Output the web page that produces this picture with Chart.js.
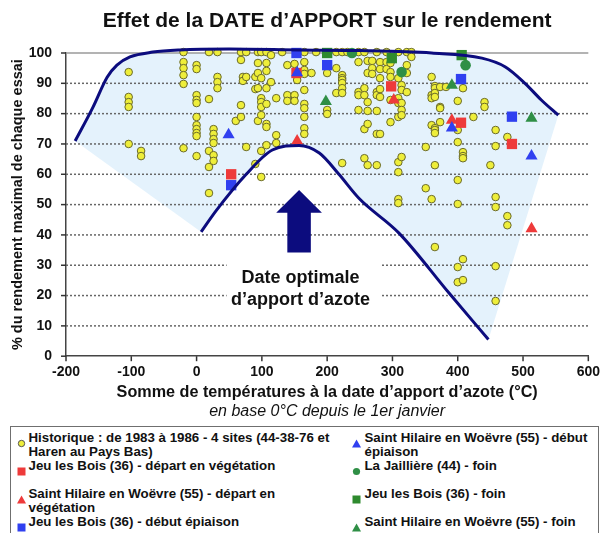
<!DOCTYPE html>
<html><head><meta charset="utf-8">
<script src="https://cdn.jsdelivr.net/npm/chart.js@4.4.1/dist/chart.umd.min.js"></script>
<style>
html,body{margin:0;padding:0;background:#fff;}
#wrap{position:relative;width:603px;height:533px;overflow:hidden;font-family:"Liberation Sans",Arial,sans-serif;}
#c{position:absolute;left:0;top:0;}
#legend{position:absolute;left:10px;top:426px;width:589px;height:130px;border:1.5px solid #6f6f6f;box-sizing:border-box;}
.li{position:absolute;font-weight:bold;font-size:13.3px;line-height:14px;color:#111;white-space:nowrap;}
.mk{position:absolute;display:block;}
</style></head><body>
<div id="wrap"><canvas id="c" width="603" height="425"></canvas><div id="legend"></div></div>
<script>
// ---------- data ----------
const xTicks = [-200,-100,0,100,200,300,400,500,600];
const yTicks = [0,10,20,30,40,50,60,70,80,90,100];

// Historique 1983-1986 (yellow circles)
const histX = [
 -104,-104,-104,-104,-104,
 -85,-85,
 -20,-20,-20,-20,-20,-20,
 0,0,0,0,0,0,0,0,0,0,0,
 19,19,19,19,19,
 26,26,26,26,26,26,
 32,32,32,32,
 60,
 68,68,68,68,
 71,71,
 76,76,76,
 90,90,90,
 94,94,94,94,94,
 99,99,99,99,99,99,99,99,
 107,107,107,107,107,107,107,107,
 114,114,
 122,122,122,
 131,
 139,139,139,
 150,150,150,
 154,
 165,165,165,165,165,165,165,165,165,165,
 176,
 183,
 200,200,200,
 214,214,214,
 223,223,223,223,223,223,223,223,
 231,
 248,248,248,248,248,
 257,257,257,257,257,
 262,262,262,262,262,262,
 269,269,269,
 276,276,276,276,276,276,
 281,281,281,281,281,281,
 291,291,291,
 297,297,297,297,297,
 309,309,309,309,309,309,309,309,309,
 314,314,314,314,314,314,
 322,322,322,322,
 329,329,
 351,351,
 360,360,360,360,360,
 365,365,365,365,365,365,365,365,365,
 373,373,373,373,
 382,
 400,400,400,400,400,400,400,
 408,408,408,408,408,408,
 424,
 441,441,
 450,
 458,458,458,458,458,458,
 476,476,476
];
const histY = [
 93.7,85.5,83.8,82.2,70.0,
 67.7,66.0,
 100.3,97.0,95.0,92.7,89.8,68.6,
 96.0,94.7,86.1,84.5,83.5,78.9,76.2,74.9,73.6,72.6,66.0,
 100.3,84.8,67.7,62.4,53.8,
 74.9,73.3,71.6,70.3,66.3,64.4,
 100.3,92.1,90.4,88.4,
 77.6,
 100.3,97.7,82.8,78.9,
 92.1,90.8,
 100.3,92.1,69.0,
 92.1,88.1,63.4,
 100.3,96.7,93.4,88.4,77.6,
 100.3,91.7,85.1,83.8,82.2,79.5,67.7,59.1,
 100.3,96.7,94.1,88.4,83.2,76.6,75.6,69.6,
 99.3,90.4,
 85.1,72.9,70.3,
 100.3,
 96.0,86.1,84.2,
 96.4,86.1,84.2,
 91.1,
 100.3,97.0,94.4,93.1,87.8,83.2,81.8,78.9,75.2,73.3,
 93.4,
 100.3,
 93.4,81.2,79.9,
 100.3,95.0,86.8,
 100.3,92.7,91.7,91.1,90.1,88.4,86.8,63.7,
 100.3,
 100.3,97.0,87.1,86.1,81.2,
 100.3,88.4,86.1,74.9,65.3,
 97.4,93.4,83.8,80.9,76.6,63.0,
 97.4,95.0,93.1,
 100.3,87.1,86.1,80.9,73.3,63.0,
 97.0,94.7,91.7,88.1,85.5,73.3,
 100.3,97.0,94.7,
 96.7,93.7,92.1,84.5,77.2,
 100.3,91.7,85.1,83.5,78.9,64.0,60.7,51.8,50.5,
 89.4,87.8,83.5,81.2,79.5,65.7,
 100.3,96.0,93.4,87.1,
 100.3,98.7,
 69.0,55.4,
 92.1,86.1,85.1,76.2,51.8,
 89.1,88.4,86.8,85.5,75.2,74.6,73.6,63.0,36.0,
 88.8,82.2,81.8,77.2,
 88.8,
 84.2,74.6,70.6,58.1,50.2,29.4,24.4,
 88.4,67.3,66.0,65.3,32.0,25.1,
 78.9,
 83.8,82.2,
 63.0,
 74.6,69.3,52.5,49.2,29.7,18.2,
 72.3,46.2,43.2
];

// Jeu les Bois (36) - départ en végétation (red squares)
const jlbDepX = [53,153,298,405,483];
const jlbDepY = [60.0,93.4,89.0,77.0,70.0];
// Saint Hilaire en Woëvre (55) - départ en végétation (red triangles)
const shDepX = [154,302,391,513];
const shDepY = [71.0,84.5,77.8,42.0];
// Jeu les Bois (36) - début épiaison (blue squares)
const jlbEpiX = [53,153,200,405,483];
const jlbEpiY = [56.4,100.0,96.0,91.4,79.0];
// Saint Hilaire en Woëvre (55) - début épiaison (blue triangles)
const shEpiX = [49,154,391,513];
const shEpiY = [73.0,93.5,75.3,66.0];
// La Jaillière (44) - foin (green circles)
const jaiFoinX = [238,314,412];
const jaiFoinY = [100.0,93.7,96.0];
// Jeu les Bois (36) - foin (green squares)
const jlbFoinX = [200,299,406];
const jlbFoinY = [100.0,98.3,99.3];
// Saint Hilaire en Woëvre (55) - foin (green triangles)
const shFoinX = [198,391,513];
const shFoinY = [84.0,89.4,78.5];

// envelope (upper curve) and optimal-date arch (lower curve)
const envX = [-186,-159,-137,-122,-102,-67,-26,50,157,250,360,437,473,503,528,554];
const envY = [71,82,92,96,98.7,100.3,101,101.3,101,100.8,100,98.3,95.4,90,84.5,79.5];
const archX = [7,30,76,116,157,188,218,249,310,386,447];
const archY = [41,48,60,68,69.5,67,60,52,40.6,21,5.5];

// texts
const titleText = 'Effet de la DATE d\u2019APPORT sur le rendement';
const xTitleText = 'Somme de temp\u00e9ratures \u00e0 la date d\u2019apport d\u2019azote (\u00b0C)';
const xSubText = 'en base 0\u00b0C depuis le 1er janvier';
const yTitleText = '% du rendement maximal de chaque essai';
const noteLines = ['Date optimale', 'd\u2019apport d\u2019azote'];
const legendLabels = [
 ['Historique : de 1983 \u00e0 1986 - 4 sites (44-38-76 et','Haren au Pays Bas)'],
 ['Jeu les Bois (36) - d\u00e9part en v\u00e9g\u00e9tation'],
 ['Saint Hilaire en Wo\u00ebvre (55) - d\u00e9part en','v\u00e9g\u00e9tation'],
 ['Jeu les Bois (36) - d\u00e9but \u00e9piaison'],
 ['Saint Hilaire en Wo\u00ebvre (55) - d\u00e9but','\u00e9piaison'],
 ['La Jailli\u00e8re (44) - foin'],
 ['Jeu les Bois (36) - foin'],
 ['Saint Hilaire en Wo\u00ebvre (55) - foin']
];

// ---------- styling / geometry ----------
const FONT = '"Liberation Sans", Arial, sans-serif';
const NAVY = '#0c0c7e';
const COL = {yellow:'#eeee3a', yellowEdge:'#6a6a2a', red:'#ee3a3a', blue:'#3040f0', green:'#2f8f46', greenSq:'#2e8a2e'};
const arrowSpec = {tipX:157, tipY:54.8, headY:47.3, headHalf:35, shaftHalf:18, baseY:34.2};
const noteSpec = {x:159, y1:25.7, y2:18.4, bx0:46, bx1:284, by0:32.8, by1:14};

function pts(xs, ys){ return xs.map((x,i)=>({x:x, y:ys[i]})); }
function mk(label, xs, ys, style, color, r, edge){
  return {label:label, data:pts(xs,ys), showLine:false, pointStyle:style, pointRadius:r, pointHoverRadius:r,
    backgroundColor:color, borderColor:edge||color, borderWidth:edge?1:0, clip:false, fill:false};
}

const datasets = [
  {label:'enveloppe', data:pts(envX,envY), showLine:true, borderColor:NAVY, borderWidth:3, pointRadius:0,
   cubicInterpolationMode:'monotone', fill:2, backgroundColor:'rgba(165,212,245,0.30)', clip:false},
  {label:'optimum', data:pts(archX,archY), showLine:true, borderColor:NAVY, borderWidth:3, pointRadius:0,
   cubicInterpolationMode:'monotone', fill:false, clip:false},
  {label:'bord', data:pts([envX[0]].concat(archX,[envX[envX.length-1]]), [envY[0]].concat(archY,[envY[envY.length-1]])),
   showLine:true, borderColor:'rgba(0,0,0,0)', backgroundColor:'rgba(0,0,0,0)', borderWidth:1, pointRadius:0, tension:0, fill:false},
  mk(legendLabels[4].join(' '), shEpiX, shEpiY, 'triangle', COL.blue, 7),
  mk(legendLabels[2].join(' '), shDepX, shDepY, 'triangle', COL.red, 7),
  mk(legendLabels[7].join(' '), shFoinX, shFoinY, 'triangle', COL.green, 7),
  mk(legendLabels[6].join(' '), jlbFoinX, jlbFoinY, 'rect', COL.greenSq, 7.3),
  mk(legendLabels[5].join(' '), jaiFoinX, jaiFoinY, 'circle', COL.green, 5.3),
  mk(legendLabels[1].join(' '), jlbDepX, jlbDepY, 'rect', COL.red, 7.3),
  mk(legendLabels[3].join(' '), jlbEpiX, jlbEpiY, 'rect', COL.blue, 7.3),
  mk(legendLabels[0].join(' '), histX, histY, 'circle', COL.yellow, 3.8, COL.yellowEdge)
];
// horizontal gridlines as thin line datasets (drawn first, underneath the marks)
yTicks.filter(v=>v>0).forEach(v=>{
  datasets.push({label:'grid '+v, data:[{x:xTicks[0], y:v},{x:xTicks[xTicks.length-1], y:v}],
    showLine:true, borderColor: v===100 ? '#9a9a9a' : '#666666', borderWidth:1.5,
    borderDash: v===100 ? [] : [2,2], pointRadius:0, fill:false, tension:0, clip:false});
});

const notePlugin = {
  id:'note',
  afterDatasetsDraw(chart){
    const ctx = chart.ctx, sx = chart.scales.x, sy = chart.scales.y;
    const X = v=>sx.getPixelForValue(v), Y = v=>sy.getPixelForValue(v);
    const a = arrowSpec;
    ctx.save();
    ctx.fillStyle = NAVY;
    ctx.beginPath();
    ctx.moveTo(X(a.tipX), Y(a.tipY));
    ctx.lineTo(X(a.tipX+a.headHalf), Y(a.headY));
    ctx.lineTo(X(a.tipX+a.shaftHalf), Y(a.headY));
    ctx.lineTo(X(a.tipX+a.shaftHalf), Y(a.baseY));
    ctx.lineTo(X(a.tipX-a.shaftHalf), Y(a.baseY));
    ctx.lineTo(X(a.tipX-a.shaftHalf), Y(a.headY));
    ctx.lineTo(X(a.tipX-a.headHalf), Y(a.headY));
    ctx.closePath();
    ctx.fill();
    const n = noteSpec;
    ctx.fillStyle = '#fff';
    ctx.fillRect(X(n.bx0), Y(n.by0), X(n.bx1)-X(n.bx0), Y(n.by1)-Y(n.by0));
    ctx.fillStyle = '#111';
    ctx.font = 'bold 18px ' + FONT;
    ctx.textAlign = 'center';
    ctx.textBaseline = 'middle';
    ctx.fillText(noteLines[0], X(n.x), Y(n.y1));
    ctx.fillText(noteLines[1], X(n.x), Y(n.y2));
    // small tick marks outside the axes
    ctx.strokeStyle = '#333'; ctx.lineWidth = 1.5;
    const area = chart.chartArea;
    yTicks.forEach(v=>{ const yy = Y(v); ctx.beginPath(); ctx.moveTo(area.left-5, yy); ctx.lineTo(area.left, yy); ctx.stroke(); });
    xTicks.forEach(v=>{ const xx = X(v); ctx.beginPath(); ctx.moveTo(xx, area.bottom); ctx.lineTo(xx, area.bottom+5); ctx.stroke(); });
    ctx.restore();
  }
};

new Chart(document.getElementById('c'), {
  type:'line',
  data:{datasets:datasets},
  options:{
    responsive:false, animation:false, events:[], devicePixelRatio:1,
    layout:{padding:{left:0,right:13,top:0,bottom:0}},
    plugins:{
      legend:{display:false}, tooltip:{enabled:false},
      filler:{drawTime:'beforeDatasetsDraw'},
      title:{display:true, text:titleText, fullSize:false, color:'#111',
        font:{family:FONT, size:21, weight:'bold'}, padding:{top:9, bottom:18.8}},
      subtitle:{display:true, position:'bottom', text:xSubText, fullSize:false, color:'#111',
        font:{family:FONT, size:16, style:'italic'}, padding:{top:0, bottom:3.8}}
    },
    scales:{
      x:{type:'linear', min:-200, max:600,
        afterBuildTicks(s){ s.ticks = xTicks.map(v=>({value:v})); },
        afterFit(s){ s.height = 45.8; },
        ticks:{font:{family:FONT, size:14, weight:'bold'}, color:'#111', padding:3, maxRotation:0},
        grid:{drawOnChartArea:false, drawTicks:true, tickLength:5, color:'rgba(0,0,0,0)', tickColor:'rgba(0,0,0,0)'},
        border:{color:'#444', width:1.5},
        title:{display:true, text:xTitleText, color:'#111', font:{family:FONT, size:16.2, weight:'bold'}, padding:{top:0,bottom:0}}
      },
      y:{type:'linear', min:0, max:100,
        afterBuildTicks(s){ s.ticks = yTicks.map(v=>({value:v})); },
        afterFit(s){ s.width = 66; },
        ticks:{font:{family:FONT, size:14, weight:'bold'}, color:'#111', padding:9},
        grid:{drawOnChartArea:false, drawTicks:true, tickLength:5, color:'rgba(0,0,0,0)', tickColor:'rgba(0,0,0,0)'},
        border:{color:'#444', width:1.5},
        title:{display:true, text:yTitleText, color:'#111', font:{family:FONT, size:14.5, weight:'bold'}, padding:{top:9,bottom:0}}
      }
    }
  },
  plugins:[notePlugin]
});

// ---------- HTML legend (two columns) ----------
const legendPlaces = [
  {i:0, col:0, row:0, shape:'hist'}, {i:1, col:0, row:1, shape:'sq', c:COL.red},
  {i:2, col:0, row:2, shape:'tri', c:COL.red}, {i:3, col:0, row:3, shape:'sq', c:COL.blue},
  {i:4, col:1, row:0, shape:'tri', c:COL.blue}, {i:5, col:1, row:1, shape:'dot', c:COL.green},
  {i:6, col:1, row:2, shape:'sq', c:COL.greenSq}, {i:7, col:1, row:3, shape:'tri', c:COL.green}
];
const lg = document.getElementById('legend');
const colText = [17.5, 353.5], colMark = [10.5, 345.5], rowY = [11, 39, 67, 95];
legendPlaces.forEach(p=>{
  let svg;
  if (p.shape==='hist') svg = '<svg width="9" height="9"><circle cx="4.5" cy="4.5" r="3.2" fill="'+COL.yellow+'" stroke="#555" stroke-width="1"/></svg>';
  else if (p.shape==='sq') svg = '<svg width="9" height="9"><rect x="0.5" y="0.5" width="8" height="8" fill="'+p.c+'"/></svg>';
  else if (p.shape==='tri') svg = '<svg width="9" height="9"><polygon points="0,8.5 4.5,0.5 9,8.5" fill="'+p.c+'"/></svg>';
  else svg = '<svg width="9" height="9"><circle cx="4.5" cy="4.5" r="3.6" fill="'+p.c+'"/></svg>';
  const m = document.createElement('div');
  m.className = 'mk'; m.innerHTML = svg;
  m.style.left = (colMark[p.col]-4.5)+'px'; m.style.top = (rowY[p.row]-4.5)+'px';
  lg.appendChild(m);
  const t = document.createElement('div');
  t.className = 'li';
  t.style.left = colText[p.col]+'px'; t.style.top = (rowY[p.row]-7)+'px';
  t.innerHTML = legendLabels[p.i].join('<br>');
  lg.appendChild(t);
});
</script>
</body></html>
